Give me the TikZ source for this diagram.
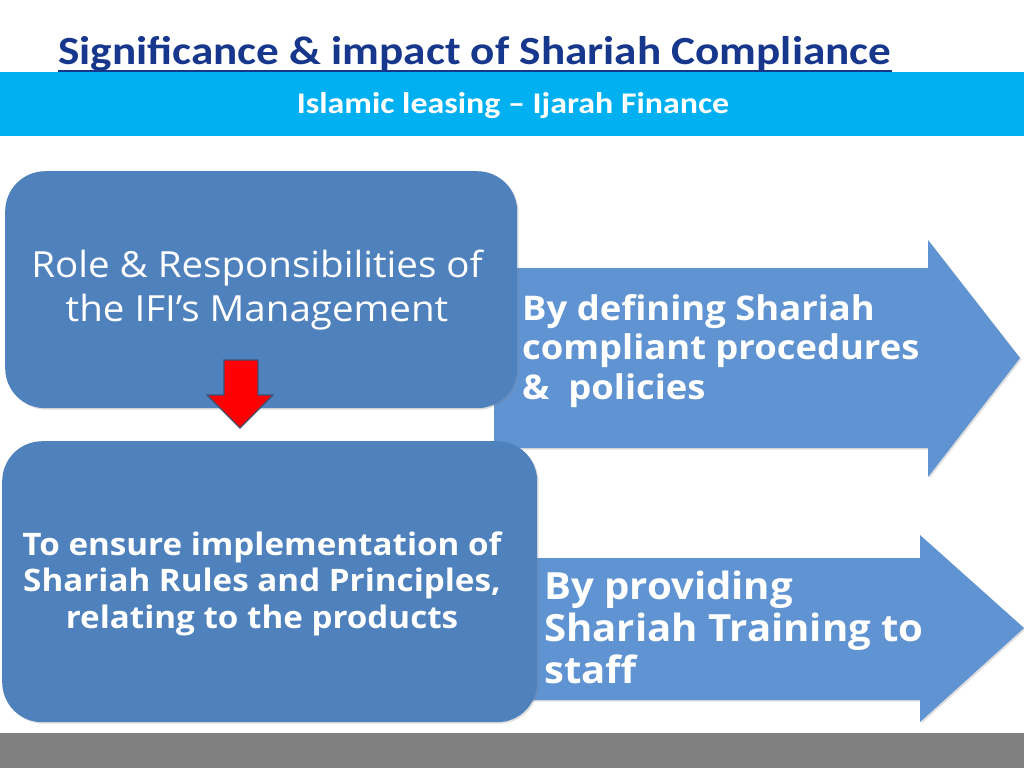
\documentclass[tikz,border=0pt]{standalone}
\usepackage{fontspec}
\setmainfont{Open Sans}
\newfontfamily\bodyfont[FakeStretch=1.07]{Open Sans}
\newfontfamily\carlito[FakeStretch=1.13]{Carlito}
\usetikzlibrary{shadows,calc}
\definecolor{titleblue}{RGB}{23,55,140}
\definecolor{bandcyan}{RGB}{0,176,240}
\definecolor{boxblue}{RGB}{79,129,189}
\definecolor{arrowblue}{RGB}{96,147,210}
\definecolor{barrgrey}{RGB}{128,128,128}
\definecolor{rededge}{RGB}{60,80,120}
\tikzset{
  roundbox/.style={fill=boxblue, draw=none, rounded corners=40pt,
    drop shadow={opacity=0.25, shadow xshift=1.5pt, shadow yshift=-1.5pt}},
  bigarrow/.style={fill=arrowblue, draw=none,
    drop shadow={opacity=0.25, shadow xshift=1.5pt, shadow yshift=-1.5pt}},
  whitetext/.style={text=white, inner sep=0pt},
}
\begin{document}
\begin{tikzpicture}[x=1pt,y=-1pt]
\useasboundingbox[fill=white] (0,0) rectangle (1024,768);

% title
\node[anchor=base west, text=titleblue, inner sep=0pt,
  font=\carlito\bfseries\fontsize{40}{48}\selectfont] (title) at (58,64)
  {Significance \& impact of Shariah Compliance};
\draw[titleblue, line width=2pt] ($(title.base west)+(0,6.5)$) -- ($(title.base east)+(0,6.5)$);

% band
\fill[bandcyan] (0,72) rectangle (1024,136);
\node[anchor=base, whitetext, font=\carlito\bfseries\fontsize{30}{34}\selectfont]
  (subtitle) at (513,113) {Islamic leasing – Ijarah Finance};

% big arrows
\path[bigarrow] (494,268) -- (928,268) -- (928,240) -- (1020,358) -- (928,477)
  -- (928,448) -- (494,448) -- cycle;
\path[bigarrow] (530,558) -- (920,558) -- (920,535) -- (1024,628) -- (920,722)
  -- (920,700) -- (530,700) -- cycle;

% boxes
\node[roundbox, minimum width=512pt, minimum height=237pt, anchor=north west]
  (box1) at (5,171) {};
\node[roundbox, minimum width=535pt, minimum height=281pt, anchor=north west]
  (box2) at (2,441) {};

% red arrow
\path[fill=red, draw=rededge, line width=1.2pt, line join=miter]
  (224,360) -- (258,360) -- (258,395) -- (273,395) -- (240,428) -- (207,395)
  -- (224,395) -- cycle;

% texts
\node[anchor=base, whitetext, align=center,
  font=\bodyfont\fontsize{36}{44}\selectfont] (t1) at (257,321)
  {Role \& Responsibilities of\\the IFI’s Management};
\node[anchor=base, whitetext, align=center,
  font=\bodyfont\bfseries\fontsize{31}{36.5}\selectfont] (t2) at (262,628)
  {To ensure implementation of\\Shariah Rules and Principles,\\relating to the products};
\node[anchor=base west, whitetext, align=left,
  font=\bodyfont\bfseries\fontsize{34}{39.5}\selectfont] (t3) at (522,399)
  {By defining Shariah\\compliant procedures\\\&\ \ policies};
\node[anchor=base west, whitetext, align=left,
  font=\bodyfont\bfseries\fontsize{37.5}{42}\selectfont] (t4) at (544,683)
  {By providing\\Shariah Training to\\staff};

% bottom bar
\fill[barrgrey] (0,733) rectangle (1024,768);
\end{tikzpicture}
\end{document}
